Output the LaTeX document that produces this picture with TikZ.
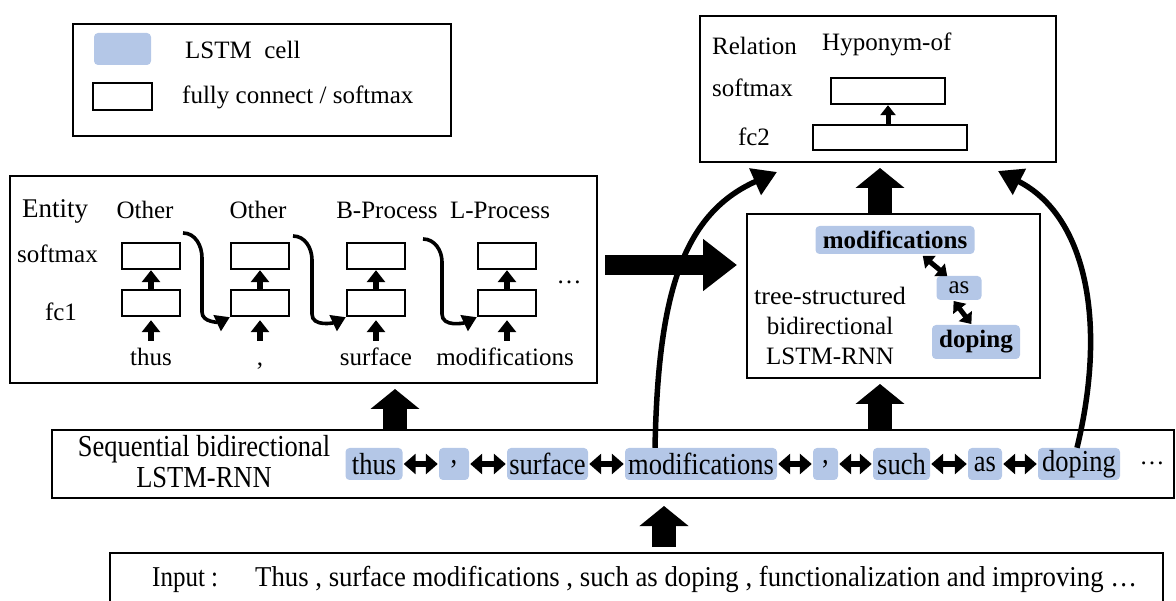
\documentclass[tikz,border=0pt]{standalone}
\usepackage{fontspec}
\setmainfont{Liberation Serif}
\usetikzlibrary{arrows.meta,calc}
\definecolor{cellblue}{HTML}{B4C7E7}
\newcommand{\tall}[1]{\scalebox{1.06}[1.22]{#1}}
\begin{document}
\begin{tikzpicture}[x=1pt,y=-1pt,
  every node/.style={font=\fontsize{25}{28}\selectfont\rmfamily, inner sep=0pt},
  frame/.style={draw, line width=2pt},
  fcbox/.style={draw, line width=2.4pt, fill=white, minimum width=58pt, minimum height=26pt},
  lstmcell/.style={fill=cellblue, rounded corners=4pt, minimum height=32pt},
  smallarrow/.style={line width=6pt, -{Triangle[width=18pt,length=12pt]}},
  dblarrow/.style={line width=6pt, {Triangle[width=20pt,length=12pt]}-{Triangle[width=20pt,length=12pt]}, shorten <=1pt, shorten >=1pt},
  bigarrow/.style={line width=24pt, -{Triangle[width=48pt,length=20pt]}},
  curvearrow/.style={line width=5.5pt, -{Triangle[width=28pt,length=24pt]}}
]
\useasboundingbox (0,0) rectangle (1176,601);

% legend
\node[frame, minimum width=378pt, minimum height=112pt] (legend) at (262,80) {};
\node[fill=cellblue, rounded corners=4pt, minimum width=57pt, minimum height=32pt] (lgcell) at (122.5,49) {};
\node[fcbox, minimum width=59pt, minimum height=27pt] (lgfc) at (122.5,96.5) {};
\node[anchor=west] (lgt1) at (185,50) {LSTM\hspace{0.5em}cell};
\node[anchor=west] (lgt2) at (182,97) {fully connect / softmax};

% entity box
\node[frame, minimum width=587pt, minimum height=207pt] (entity) at (303.5,279.5) {};
\node[anchor=base west, font=\fontsize{27}{30}\selectfont] (entl) at (22,218) {Entity};
\node[anchor=base west] (sml) at (17,263) {softmax};
\node[anchor=base] (fcl) at (61,321) {fc1};
\node[anchor=base] (o1) at (145,219) {Other};
\node[anchor=base] (o2) at (258,219) {Other};
\node[anchor=base] (o3) at (387,219) {B-Process};
\node[anchor=base] (o4) at (500,219) {L-Process};
\foreach \i/\x in {1/151,2/260,3/376,4/507}{
  \node[fcbox] (sm\i) at (\x,256) {};
  \node[fcbox] (fc\i) at (\x,303) {};
  \coordinate (in\i) at (\x,341);
  \draw[smallarrow] (fc\i.north) -- (sm\i.south);
  \draw[smallarrow, shorten >=3pt] (in\i) -- (fc\i.south);
}
\node[anchor=base] (w1) at (151,366) {thus};
\node[anchor=base] (w2) at (260,366) {,};
\node[anchor=base] (w3) at (376,366) {surface};
\node[anchor=base] (w4) at (505,366) {modifications};
\node (edots) at (569,282) {\dots};
% small curved arrows
\coordinate (c1) at (183,233);
\coordinate (c2) at (293,236);
\coordinate (c3) at (423,239);
\draw[line width=3.6pt, -{Triangle[width=17pt,length=14pt]}] (c1) to[out=0,in=90] (202,258) -- (202,312) to[out=-90,in=205] (fc2.south west);
\draw[line width=3.6pt, -{Triangle[width=17pt,length=14pt]}] (c2) to[out=0,in=90] (312,260) -- (312,314) to[out=-90,in=205] (fc3.south west);
\draw[line width=3.6pt, -{Triangle[width=17pt,length=14pt]}] (c3) to[out=0,in=90] (442,262) -- (442,314) to[out=-90,in=205] (fc4.south west);

% relation box
\node[frame, minimum width=356pt, minimum height=146pt] (rel) at (878,89) {};
\node[anchor=base west] (rell) at (712,55) {Relation};
\node[anchor=base west] (hyp) at (822,51) {Hyponym-of};
\node[anchor=base west] (rsml) at (712,97) {softmax};
\node[anchor=base] (fc2l) at (754,146) {fc2};
\node[fcbox, minimum width=114pt] (rsm) at (888,91) {};
\node[fcbox, minimum width=154pt, minimum height=25pt] (rfc) at (890,137.5) {};
\draw[smallarrow, line width=5pt, -{Triangle[width=15pt,length=10pt]}] (rfc.north -| rsm.south) -- (rsm.south);

% tree box
\node[frame, minimum width=293pt, minimum height=164pt] (tree) at (893.5,296) {};
\node[lstmcell, minimum width=159pt, minimum height=28pt, font=\fontsize{25}{28}\selectfont\rmfamily\bfseries] (tmod) at (895,240) {modifications};
\node[lstmcell, minimum width=45pt, minimum height=24pt] (tas) at (959,288) {as};
\node[lstmcell, minimum width=88pt, minimum height=34pt, font=\fontsize{25}{28}\selectfont\rmfamily\bfseries] (tdop) at (976,342) {doping};
\node[align=center, font=\fontsize{25}{30}\selectfont] (ttxt) at (830,326) {\scalebox{1.04}[1]{tree-structured}\\bidirectional\\LSTM-RNN};
\draw[dblarrow, line width=5pt, {Triangle[width=16pt,length=10pt]}-{Triangle[width=16pt,length=10pt]}] ($(tmod.south)+(27,1)$) -- ($(tas.north)+(-11,1)$);
\draw[dblarrow, line width=5pt, {Triangle[width=16pt,length=10pt]}-{Triangle[width=16pt,length=10pt]}] ($(tas.south)+(-6,0)$) -- ($(tdop.north)+(-4,0)$);

% sequential box
\node[frame, minimum width=1122pt, minimum height=68pt] (seq) at (613,464) {};
\node[align=center, font=\fontsize{25}{31}\selectfont] (seqt) at (204,462) {\tall{Sequential bidirectional}\\\tall{LSTM-RNN}};
\node[lstmcell, minimum width=57pt] (s1) at (374,464) {\tall{thus}};
\node[lstmcell, minimum width=30pt] (s2) at (454,464) {\tall{,}};
\node[lstmcell, minimum width=81pt] (s3) at (547.5,464) {\tall{surface}};
\node[lstmcell, minimum width=152pt] (s4) at (701,464) {\tall{modifications}};
\node[lstmcell, minimum width=25pt] (s5) at (825.5,464) {\tall{,}};
\node[lstmcell, minimum width=57pt] (s6) at (901.5,464) {\tall{such}};
\node[lstmcell, minimum width=34pt] (s7) at (985,464) {\tall{as}};
\node[lstmcell, minimum width=82pt] (s8) at (1079,464) {\tall{doping}};
\node (sdots) at (1152,463) {\dots};
\foreach \a/\b in {s1/s2,s2/s3,s3/s4,s4/s5,s5/s6,s6/s7,s7/s8}{
  \draw[dblarrow] (\a.east) -- (\b.west);
}

% input box
\node[frame, minimum width=1053pt, minimum height=60pt] (inp) at (636.5,583) {};
\node[anchor=base west] (inl) at (152,586) {\scalebox{1}[1.15]{Input :}};
\node[anchor=base west] (ins) at (255,586) {\scalebox{1.07}[1.15]{Thus , surface modifications , such as doping , functionalization and improving \dots}};

% big arrows
\coordinate (xa) at (395,0);
\coordinate (xb) at (880,0);
\coordinate (xc) at (664,0);
\coordinate (yh) at (0,265);
\draw[bigarrow, shorten <=0pt, shorten >=5pt] (seq.north -| xa) -- (entity.south -| xa);
\draw[bigarrow, shorten >=5pt] (seq.north -| xb) -- (tree.south -| xb);
\draw[bigarrow, shorten <=0pt, shorten >=5pt] (tree.north -| xb) -- (rel.south -| xb);
\draw[bigarrow, shorten <=5pt, shorten >=7pt] (inp.north -| xc) -- (seq.south -| xc);
\draw[line width=20pt, -{Triangle[width=50pt,length=34pt]}, shorten <=7pt, shorten >=9pt] (entity.east |- yh) -- (tree.west |- yh);

% long curved arrows
\coordinate (la) at (777,172);
\coordinate (ra) at (998,171);
\draw[curvearrow] (s4.north -| 655,0) .. controls (658,300) and (680,215) .. (la);
\draw[curvearrow] (s8.north -| 1077,0) .. controls (1108,320) and (1085,215) .. (ra);
\end{tikzpicture}
\end{document}
